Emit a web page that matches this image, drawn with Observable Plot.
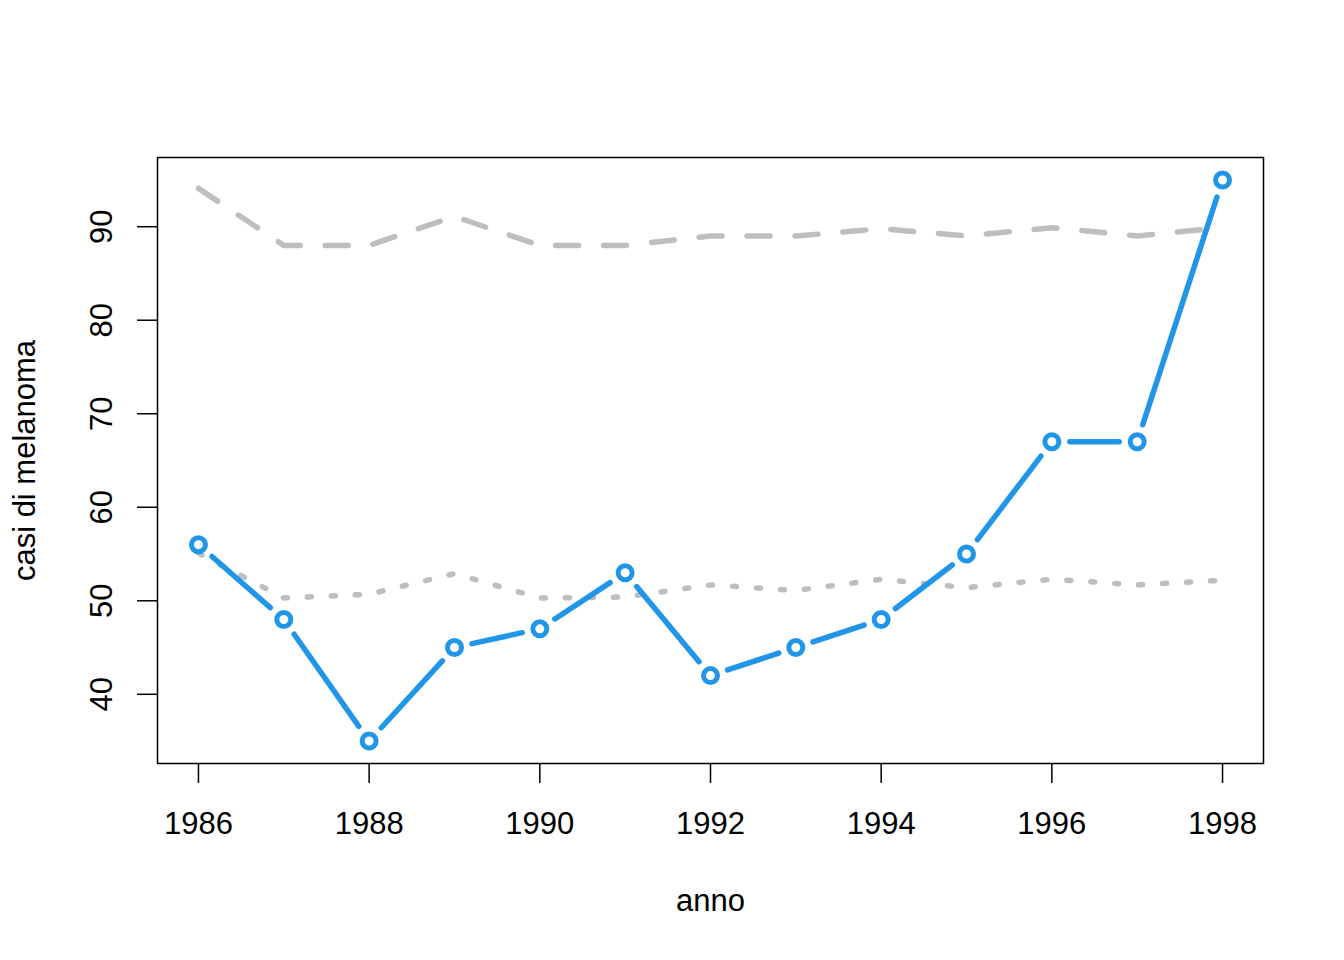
<!DOCTYPE html>
<html>
<head>
<meta charset="utf-8">
<script src="https://cdn.jsdelivr.net/npm/d3@7"></script>
<script src="https://cdn.jsdelivr.net/npm/@observablehq/plot@0.6"></script>
<style>
  html, body { margin: 0; padding: 0; background: #fff; }
  #chart svg { display: block; }
</style>
</head>
<body>
<div id="chart"></div>
<script>
// --- data ---
const years = [1986, 1987, 1988, 1989, 1990, 1991, 1992, 1993, 1994, 1995, 1996, 1997, 1998];
const cases = [56, 48, 35, 45, 47, 53, 42, 45, 48, 55, 67, 67, 95];
const upper = [94.1, 88.0, 88.0, 91.1, 88.0, 88.0, 89.0, 89.0, 89.8, 89.0, 89.9, 89.0, 89.9];
const lower = [55.1, 50.3, 50.7, 52.9, 50.3, 50.4, 51.7, 51.1, 52.3, 51.4, 52.3, 51.7, 52.2];
const xTicks = [1986, 1988, 1990, 1992, 1994, 1996, 1998];
const yTicks = [40, 50, 60, 70, 80, 90];
const xTitle = "anno";
const yTitle = "casi di melanoma";

// --- derived tables ---
const rows = years.map((yr, i) => ({year: yr, cases: cases[i], upper: upper[i], lower: lower[i]}));
const segs = years.slice(1).map((yr, i) => ({x1: years[i], y1: cases[i], x2: yr, y2: cases[i + 1]}));

// R-style 4% axis expansion
const pad = ([a, b]) => [a - (b - a) * 0.04, b + (b - a) * 0.04];
const xDom = pad(d3.extent(years));
const yDom = pad(d3.extent(cases));

const font = "'Liberation Sans', Arial, sans-serif";
const blue = "#2196E8";
const grey = "#BEBEBE";

const chart = Plot.plot({
  width: 1344,
  height: 960,
  marginLeft: 157,
  marginRight: 81,
  marginTop: 157,
  marginBottom: 197,
  style: {fontFamily: font, background: "white"},
  x: {domain: xDom},
  y: {domain: yDom},
  marks: [
    Plot.line(rows, {x: "year", y: "upper", stroke: grey, strokeWidth: 5.5,
      strokeDasharray: "23,25", strokeLinecap: "round", strokeLinejoin: "round"}),
    Plot.line(rows, {x: "year", y: "lower", stroke: grey, strokeWidth: 5.5,
      strokeDasharray: "4,20", strokeLinecap: "round", strokeLinejoin: "round"}),
    Plot.arrow(segs, {x1: "x1", y1: "y1", x2: "x2", y2: "y2",
      insetStart: 18, insetEnd: 18, headLength: 0,
      stroke: blue, strokeWidth: 5.5, strokeLinecap: "round"}),
    Plot.dot(rows, {x: "year", y: "cases", r: 7, stroke: blue, strokeWidth: 5, fill: "none"}),
    Plot.frame({stroke: "black", strokeWidth: 1.5}),
    Plot.axisX({ticks: xTicks, tickSize: 20, tickFormat: () => "", label: null, stroke: "black", strokeWidth: 1.5}),
    Plot.axisY({ticks: yTicks, tickSize: 20, tickFormat: () => "", label: null, stroke: "black", strokeWidth: 1.5}),
    Plot.text(xTicks, {x: d => d, text: d => String(d), frameAnchor: "bottom",
      lineAnchor: "top", dy: 48, fontSize: 31, fill: "black"}),
    Plot.text(yTicks, {y: d => d, text: d => String(d), frameAnchor: "left", textAnchor: "middle",
      rotate: -90, lineAnchor: "bottom", dx: -46, fontSize: 31, fill: "black"}),
    Plot.text([xTitle], {text: d => d, frameAnchor: "bottom", lineAnchor: "bottom",
      dy: 147, fontSize: 31, fill: "black"}),
    Plot.text([yTitle], {text: d => d, frameAnchor: "left", textAnchor: "middle", rotate: -90,
      lineAnchor: "bottom", dx: -123, fontSize: 31, fill: "black"})
  ]
});
document.getElementById("chart").appendChild(chart);
</script>
</body>
</html>
